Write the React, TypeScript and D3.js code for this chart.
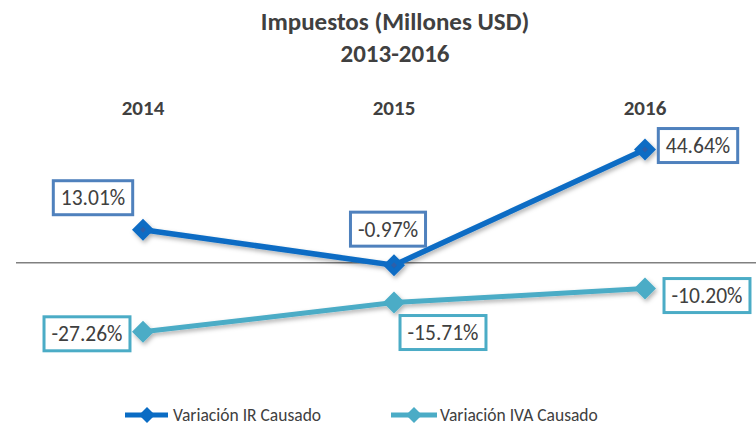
import React, { useEffect } from 'react';
import * as d3 from 'd3';

const years = ['2014', '2015', '2016'];
const irValues = [13.01, -0.97, 44.64];
const ivaValues = [-27.26, -15.71, -10.2];
const seriesNames = ['Variación IR Causado', 'Variación IVA Causado'];
const titleLines = ['Impuestos (Millones USD)', '2013-2016'];
// label box centre offsets relative to the point
const irLabelOffsets = [[-50, -32], [-6, -36], [53, -4]];
const ivaLabelOffsets = [[-56, 2], [49, 30], [62, 7]];

const W = 756;
const H = 426;
const FONT = 'Carlito, Calibri, Lato, sans-serif';
const TEXT = '#404040';
const IR_COLOR = '#0a6cc4';
const IVA_COLOR = '#4bacc6';
const IR_BOX = '#4f81bd';
const IVA_BOX = '#4bacc6';

function measure(text: string, font: string): number {
  const c = document.createElement('canvas');
  const ctx = c.getContext('2d');
  if (!ctx) return text.length * 9;
  ctx.font = font;
  return ctx.measureText(text).width;
}

const fmt = (v: number) => v.toFixed(2) + '%';

export default function App() {
  useEffect(() => {
    document.body.style.margin = '0';
  }, []);

  const x = d3.scalePoint<string>().domain(years).range([143, 645]);
  const y = d3.scaleLinear().domain([-30, 50]).range([338.75, 135.95]);
  const line = d3
    .line<number>()
    .x((_, i) => x(years[i]) as number)
    .y((d) => y(d));

  const diamond = (cx: number, cy: number, r: number) =>
    `M${cx},${cy - r}L${cx + r},${cy}L${cx},${cy + r}L${cx - r},${cy}Z`;

  const labelFontSize = 21.5;
  const labelFont = `${labelFontSize}px ${FONT}`;

  const renderLabels = (vals: number[], offsets: number[][], border: string) =>
    vals.map((v, i) => {
      const px = x(years[i]) as number;
      const py = y(v);
      const cx = px + offsets[i][0];
      const cy = py + offsets[i][1];
      const t = fmt(v);
      const tw = measure(t, labelFont);
      const bw = tw + 15;
      const bh = 34;
      return (
        <g key={i}>
          <rect
            x={cx - bw / 2}
            y={cy - bh / 2}
            width={bw}
            height={bh}
            fill="#fff"
            stroke={border}
            strokeWidth={3}
          />
          <text
            x={cx}
            y={cy + 7.5}
            textAnchor="middle"
            fontFamily={FONT}
            fontSize={labelFontSize}
            fill={TEXT}
          >
            {t}
          </text>
        </g>
      );
    });

  return (
    <svg width={W} height={H} style={{ display: 'block' }}>
      <defs>
        <filter id="sh" x="-20%" y="-20%" width="140%" height="160%">
          <feDropShadow dx="1.5" dy="2.5" stdDeviation="2" floodColor="#000" floodOpacity="0.3" />
        </filter>
      </defs>
      <rect width={W} height={H} fill="#fff" />
      {titleLines.map((t, i) => (
        <text
          key={t}
          x={395}
          y={30 + i * 32}
          textAnchor="middle"
          fontFamily={FONT}
          fontWeight="bold"
          fontSize={25}
          fill={TEXT}
        >
          {t}
        </text>
      ))}
      {years.map((yr) => (
        <text
          key={yr}
          x={x(yr) as number}
          y={115}
          textAnchor="middle"
          fontFamily={FONT}
          fontWeight="bold"
          fontSize={21}
          fill={TEXT}
        >
          {yr}
        </text>
      ))}
      <line x1={16} x2={W} y1={y(0)} y2={y(0)} stroke="#808080" strokeWidth={1.5} />

      <g filter="url(#sh)">
        <path d={line(ivaValues) || ''} fill="none" stroke={IVA_COLOR} strokeWidth={5} />
        {ivaValues.map((v, i) => (
          <path key={i} d={diamond(x(years[i]) as number, y(v), 11)} fill={IVA_COLOR} />
        ))}
        <path d={line(irValues) || ''} fill="none" stroke={IR_COLOR} strokeWidth={5.5} />
        {irValues.map((v, i) => (
          <g key={i}>
            <path d={diamond(x(years[i]) as number, y(v), 11)} fill={IR_COLOR} />
            <path d={diamond(x(years[i]) as number, y(v), 3)} fill="#2f5fa8" />
          </g>
        ))}
      </g>

      {renderLabels(irValues, irLabelOffsets, IR_BOX)}
      {renderLabels(ivaValues, ivaLabelOffsets, IVA_BOX)}

      {/* legend */}
      {[
        { color: IR_COLOR, x0: 125, x1: 168, mx: 147, tx: 173 },
        { color: IVA_COLOR, x0: 391, x1: 437, mx: 414, tx: 440 },
      ].map((l, i) => (
        <g key={i}>
          <line x1={l.x0} x2={l.x1} y1={415} y2={415} stroke={l.color} strokeWidth={5} />
          <path d={diamond(l.mx, 415, 8)} fill={l.color} />
          <text
            x={l.tx}
            y={421}
            fontFamily={FONT}
            fontSize={17.5}
            fill={TEXT}
          >
            {seriesNames[i]}
          </text>
        </g>
      ))}
    </svg>
  );
}
